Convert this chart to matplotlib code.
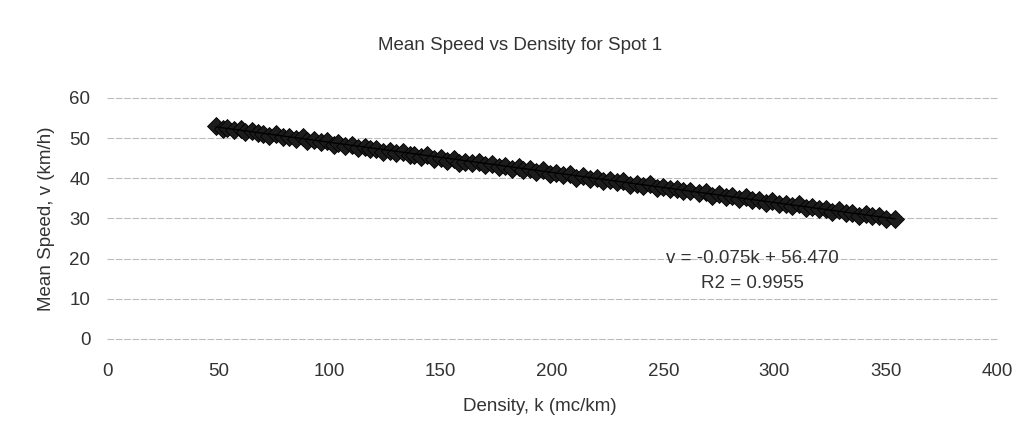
import matplotlib
matplotlib.use('Agg')
import matplotlib.pyplot as plt

plt.rcParams['font.family'] = ['Liberation Sans', 'DejaVu Sans']

# density k (mc/km) and mean speed v (km/h)
density = [49, 52, 54, 57, 60, 62, 65, 68, 70, 73, 76, 79, 82, 85, 88, 90,
           93, 96, 99, 102, 104, 107, 110, 113, 116, 118, 121, 124, 127, 130,
           133, 136, 138, 141, 144, 147, 150, 153, 156, 158, 161, 164, 167,
           170, 173, 176, 179, 182, 185, 187, 190, 193, 196, 199, 202, 205,
           208, 211, 214, 217, 220, 223, 226, 229, 232, 235, 238, 241, 244,
           247, 250, 253, 256, 259, 262, 266, 269, 272, 275, 278, 281, 284,
           287, 290, 293, 296, 299, 302, 305, 308, 311, 314, 317, 320, 323,
           326, 329, 332, 335, 338, 341, 344, 347, 350, 354]
speed = [53.1, 52.3, 52.6, 52.0, 52.3, 51.5, 51.9, 51.2, 51.0, 50.6, 51.1,
         50.2, 50.4, 49.8, 50.2, 49.3, 49.5, 49.0, 49.3, 48.3, 48.7, 48.1,
         48.2, 47.5, 47.8, 47.2, 47.3, 46.5, 46.8, 46.3, 46.6, 45.7, 45.9,
         45.3, 45.7, 44.7, 45.0, 44.4, 44.8, 43.8, 44.1, 43.7, 44.0, 43.2,
         43.5, 42.9, 43.1, 42.3, 42.9, 42.1, 42.2, 41.5, 42.0, 41.0, 41.3,
         40.8, 41.2, 40.2, 40.5, 39.9, 40.1, 39.3, 39.6, 39.0, 39.4, 38.4,
         38.7, 38.2, 38.5, 37.5, 37.8, 37.3, 37.4, 36.9, 36.9, 36.4, 36.7,
         35.7, 36.0, 35.4, 35.6, 34.8, 35.3, 34.5, 34.6, 33.8, 34.3, 33.7,
         33.7, 33.1, 33.5, 32.5, 32.8, 32.3, 32.4, 31.6, 32.1, 31.4, 31.4,
         30.7, 31.2, 30.5, 30.6, 29.9, 29.8]

# trendline from the label on the chart
slope = -0.075
intercept = 56.470
r2 = 0.9955

x_ticks = [0, 50, 100, 150, 200, 250, 300, 350, 400]
y_ticks = [0, 10, 20, 30, 40, 50, 60]

fig = plt.figure(figsize=(10.25, 4.43), dpi=100)
ax = fig.add_axes([0.1044, 0.2348, 0.8683, 0.544])

ax.set_xlim(0, 400)
ax.set_ylim(0, 60)
ax.set_xticks(x_ticks)
ax.set_yticks(y_ticks)
for s in ax.spines.values():
    s.set_visible(False)
ax.grid(axis='y', color='#bdbdbd', linewidth=0.8, linestyle=(0, (6, 1.5)))
for gl in ax.get_ygridlines():
    gl.set_clip_on(False)
ax.set_axisbelow(True)
ax.tick_params(length=0, labelsize=13.5, labelcolor='#333333')
ax.tick_params(axis='x', pad=17)
ax.tick_params(axis='y', pad=12)

ax.plot(density, speed, linestyle='none', marker='D', markersize=9,
        markerfacecolor='#1c1c1c', markeredgecolor='#000000', markeredgewidth=0.6)

k_ends = [min(density), max(density)]
ax.plot(k_ends, [slope * k + intercept for k in k_ends], color='black', linewidth=1)

ax.text(0.725, 0.335, 'v = %.3fk + %.3f' % (slope, intercept), transform=ax.transAxes,
        ha='center', va='center', fontsize=13.5, color='#333333')
ax.text(0.725, 0.23, 'R2 = %.4f' % r2, transform=ax.transAxes,
        ha='center', va='center', fontsize=13.5, color='#333333')

fig.text(0.507, 0.898, 'Mean Speed vs Density for Spot 1', ha='center', va='center',
         fontsize=13.5, color='#333333')
fig.text(0.527, 0.083, 'Density, k (mc/km)', ha='center', va='center',
         fontsize=13.5, color='#333333')
fig.text(0.045, 0.507, 'Mean Speed, v (km/h)', ha='center', va='center',
         rotation=90, fontsize=13.5, color='#333333')

fig.savefig('out.png', dpi=100)
